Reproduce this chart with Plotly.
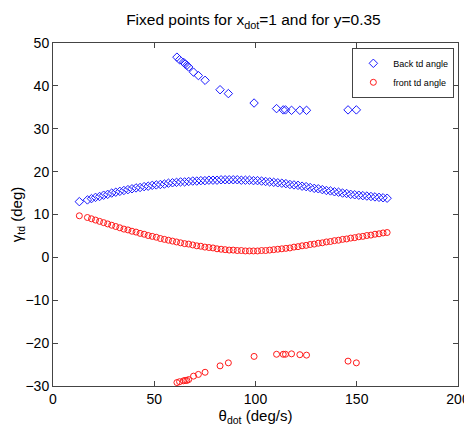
import plotly.graph_objects as go

# main branch, x positions (deg/s)
theta_main = [13] + list(range(17, 166, 2))
back_main = [13.0,
             13.4, 13.7, 14.0, 14.2, 14.5, 14.7, 15.0, 15.2, 15.4, 15.6,
             15.8, 16.0, 16.2, 16.3, 16.5, 16.6, 16.8, 16.9, 17.0, 17.1,
             17.3, 17.4, 17.5, 17.6, 17.6, 17.7, 17.8, 17.8, 17.9, 17.9,
             18.0, 18.0, 18.0, 18.1, 18.1, 18.1, 18.1, 18.1, 18.0, 18.0,
             18.0, 17.9, 17.9, 17.8, 17.7, 17.6, 17.5, 17.4, 17.3, 17.2,
             17.0, 16.9, 16.8, 16.6, 16.5, 16.3, 16.1, 16.0, 15.8, 15.6,
             15.5, 15.3, 15.2, 15.0, 14.9, 14.7, 14.6, 14.5, 14.4, 14.3,
             14.2, 14.1, 14.0, 13.9, 13.8]
front_main = [9.7,
              9.3, 9.0, 8.7, 8.4, 8.1, 7.8, 7.5, 7.2, 6.9, 6.6,
              6.4, 6.1, 5.9, 5.6, 5.4, 5.1, 4.9, 4.7, 4.4, 4.2,
              4.0, 3.8, 3.6, 3.4, 3.2, 3.1, 2.9, 2.7, 2.6, 2.4,
              2.3, 2.2, 2.0, 1.9, 1.8, 1.7, 1.7, 1.6, 1.6, 1.5,
              1.5, 1.5, 1.5, 1.6, 1.6, 1.7, 1.8, 1.9, 2.0, 2.1,
              2.2, 2.4, 2.5, 2.7, 2.8, 3.0, 3.1, 3.3, 3.4, 3.6,
              3.7, 3.9, 4.0, 4.2, 4.3, 4.5, 4.6, 4.8, 4.9, 5.1,
              5.2, 5.4, 5.5, 5.7, 5.8]

# secondary branch
theta_side = [61.2, 62.5, 64.4, 65.3, 66.1, 67.0, 69.4, 71.8, 75.1, 82.5, 86.6,
              99.3, 110.4, 113.7, 114.8, 117.8, 121.9, 125.2, 145.7, 149.8]
back_side = [46.7, 46.1, 45.5, 45.1, 44.8, 44.4, 43.2, 42.4, 41.3, 39.1, 38.2,
             36.0, 34.7, 34.4, 34.4, 34.3, 34.3, 34.3, 34.4, 34.4]
front_side = [-29.2, -29.0, -28.8, -28.7, -28.7, -28.5, -27.7, -27.3, -26.8, -25.3, -24.6,
              -23.1, -22.6, -22.6, -22.6, -22.5, -22.7, -22.8, -24.2, -24.6]

x_ticks = [0, 50, 100, 150, 200]
y_ticks = [-30, -20, -10, 0, 10, 20, 30, 40, 50]

FONT = "Liberation Sans, Arial"

fig = go.Figure()
fig.add_trace(go.Scatter(
    x=theta_main + theta_side, y=back_main + back_side, mode="markers",
    name="Back td angle",
    marker=dict(symbol="diamond-open", size=6.5, color="#1a1aff", line=dict(width=1))))
fig.add_trace(go.Scatter(
    x=theta_main + theta_side, y=front_main + front_side, mode="markers",
    name="front td angle",
    marker=dict(symbol="circle-open", size=6, color="#ff1a1a", line=dict(width=1))))

axis_common = dict(showline=True, linecolor="#444", linewidth=1, mirror="ticks",
                   ticks="inside", ticklen=5, tickcolor="#444", showgrid=False,
                   zeroline=False, automargin=False,
                   tickfont=dict(size=14, color="black", family=FONT))
fig.update_xaxes(range=[0, 200], tickvals=x_ticks,
                 title=dict(text="θ<sub>dot</sub> (deg/s)", standoff=2,
                            font=dict(size=15, color="black", family=FONT)),
                 **axis_common)
fig.update_yaxes(range=[-30, 50], tickvals=y_ticks,
                 title=dict(text="γ<sub>td</sub> (deg)", standoff=2,
                            font=dict(size=15, color="black", family=FONT)),
                 **axis_common)

fig.update_layout(
    width=472, height=426,
    margin=dict(l=45, r=21.5, t=35, b=48.3),
    paper_bgcolor="white", plot_bgcolor="white",
    title=dict(text="Fixed points for x<sub>dot</sub>=1 and for y=0.35",
               x=0.52, xanchor="center", y=0.972, yanchor="middle",
               font=dict(size=15.5, color="black", family=FONT)),
    legend=dict(x=0.991, y=0.986, xanchor="right", yanchor="top",
                bgcolor="white", bordercolor="#444", borderwidth=1,
                font=dict(size=9, color="black", family=FONT),
                tracegroupgap=0, itemwidth=30),
    showlegend=True,
)

fig.write_html("out.html")
